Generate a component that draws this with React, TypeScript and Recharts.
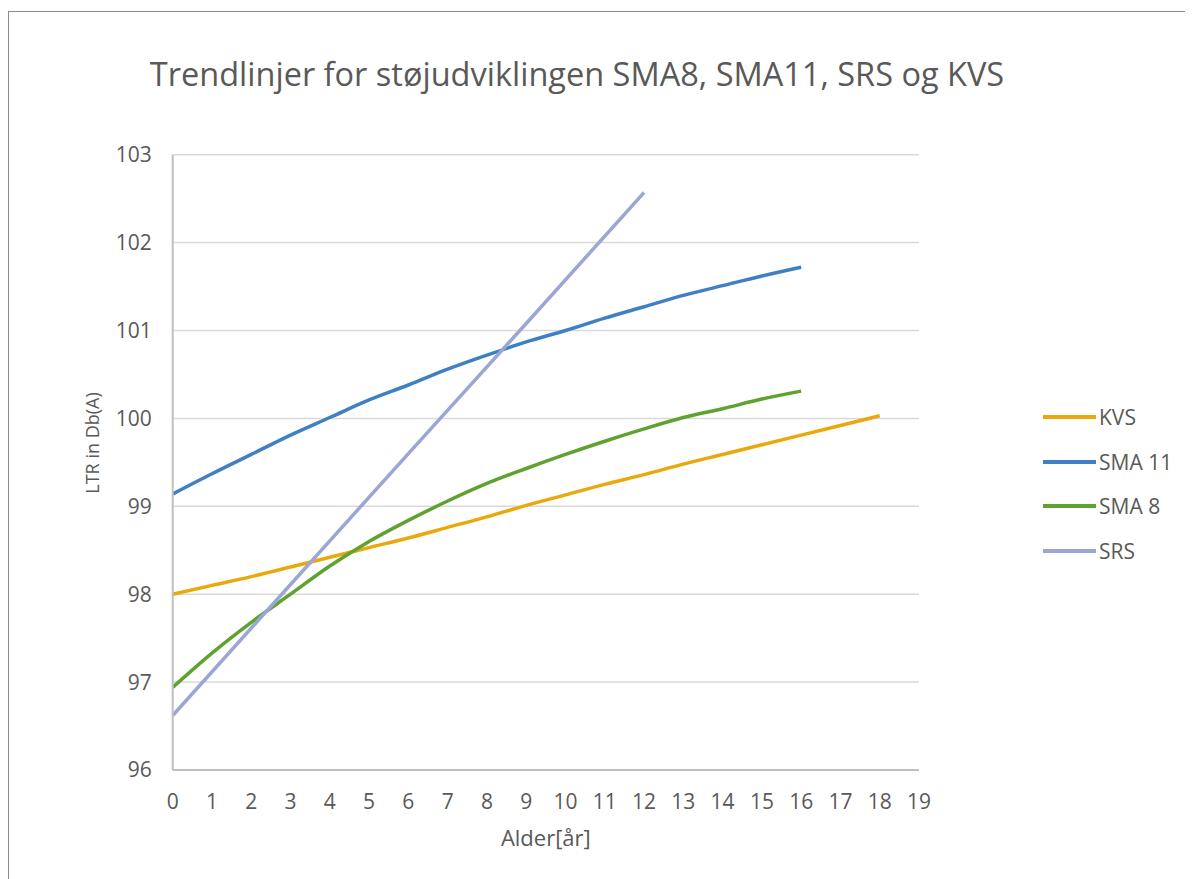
import { LineChart, Line, XAxis, YAxis, CartesianGrid, Label } from 'recharts';

// Alder [år] per serie
const ageKVS = [0, 1, 2, 3, 4, 5, 6, 7, 8, 9, 10, 11, 12, 13, 14, 15, 16, 17, 18];
const ageSMA = [0, 1, 2, 3, 4, 5, 6, 7, 8, 9, 10, 11, 12, 13, 14, 15, 16];
const ageSRS = [0, 3, 6, 9, 12];

// LTR in Db(A), lest av fra figuren
const kvs = [98.0, 98.1, 98.2, 98.31, 98.42, 98.53, 98.64, 98.76, 98.88, 99.01, 99.13, 99.25, 99.36, 99.48, 99.59, 99.7, 99.81, 99.92, 100.03];
const sma11 = [99.14, 99.37, 99.59, 99.81, 100.01, 100.21, 100.38, 100.56, 100.72, 100.87, 101.0, 101.14, 101.27, 101.4, 101.51, 101.62, 101.72];
const sma8 = [96.94, 97.33, 97.68, 98.0, 98.32, 98.6, 98.84, 99.06, 99.26, 99.43, 99.59, 99.74, 99.88, 100.01, 100.11, 100.22, 100.31];
const srs = [96.62, 98.11, 99.6, 101.08, 102.57];

const xTicks = [0, 1, 2, 3, 4, 5, 6, 7, 8, 9, 10, 11, 12, 13, 14, 15, 16, 17, 18, 19];
const yTicks = [96, 97, 98, 99, 100, 101, 102, 103];

const toPoints = (xs: number[], ys: number[]) => xs.map((x, i) => ({ x, y: ys[i] }));

const series = [
	{ name: 'KVS', color: '#e9a90c', data: toPoints(ageKVS, kvs) },
	{ name: 'SMA 11', color: '#3e80c3', data: toPoints(ageSMA, sma11) },
	{ name: 'SMA 8', color: '#5fa22f', data: toPoints(ageSMA, sma8) },
	{ name: 'SRS', color: '#9ba5d6', data: toPoints(ageSRS, srs) },
];

const FONT = '"Open Sans", sans-serif';
const TEXT = '#595959';

export default function App() {
	return (
		<div
			style={{
				position: 'relative',
				marginTop: 3,
				width: 1184,
				height: 867,
				borderLeft: '1px solid #8a8a8a',
				borderTop: '1px solid #8a8a8a',
				background: '#fff',
				fontFamily: FONT,
				color: TEXT,
			}}
		>
			<div
				style={{
					position: 'absolute',
					left: 0,
					width: 1136,
					top: 39,
					textAlign: 'center',
					fontSize: 32.5,
					whiteSpace: 'nowrap',
				}}
			>
				Trendlinjer for støjudviklingen SMA8, SMA11, SRS og KVS
			</div>
			<div
				style={{
					position: 'absolute',
					left: 82.7,
					top: 431,
					transform: 'translate(-50%, -50%) rotate(-90deg)',
					fontSize: 18,
					whiteSpace: 'nowrap',
				}}
			>
				LTR in Db(A)
			</div>
			<LineChart
				width={1184}
				height={867}
				margin={{ top: 142.7, right: 274, left: 103.7, bottom: 79 }}
			>
				<CartesianGrid vertical={false} stroke='#d9d9d9' strokeWidth={1.5} />
				<XAxis
					type='number'
					dataKey='x'
					domain={[0, 19]}
					ticks={xTicks}
					interval={0}
					height={30}
					tickLine={false}
					tickMargin={18}
					axisLine={{ stroke: '#bfbfbf', strokeWidth: 2 }}
					tick={{ fill: TEXT, fontSize: 21, fontFamily: FONT }}
				>
					<Label
						value='Alder[år]'
						position='bottom'
						offset={30}
						style={{ fill: TEXT, fontSize: 22, fontFamily: FONT }}
					/>
				</XAxis>
				<YAxis
					type='number'
					domain={[96, 103]}
					ticks={yTicks}
					interval={0}
					width={60}
					tickLine={false}
					tickMargin={15}
					axisLine={{ stroke: '#bfbfbf', strokeWidth: 2 }}
					tick={{ fill: TEXT, fontSize: 21, fontFamily: FONT }}
				/>
				{series.map((s) => (
					<Line
						key={s.name}
						data={s.data}
						dataKey='y'
						name={s.name}
						type='monotone'
						stroke={s.color}
						strokeWidth={3.5}
						dot={false}
						isAnimationActive={false}
					/>
				))}
			</LineChart>
			{series.map((s, i) => (
				<div
					key={s.name}
					style={{
						position: 'absolute',
						left: 1034,
						top: 405 + i * 44.7,
						transform: 'translateY(-50%)',
						display: 'flex',
						alignItems: 'center',
						fontSize: 21,
						whiteSpace: 'nowrap',
					}}
				>
					<span style={{ display: 'inline-block', width: 53, height: 4, background: s.color, marginRight: 3 }} />
					{s.name}
				</div>
			))}
		</div>
	);
}
